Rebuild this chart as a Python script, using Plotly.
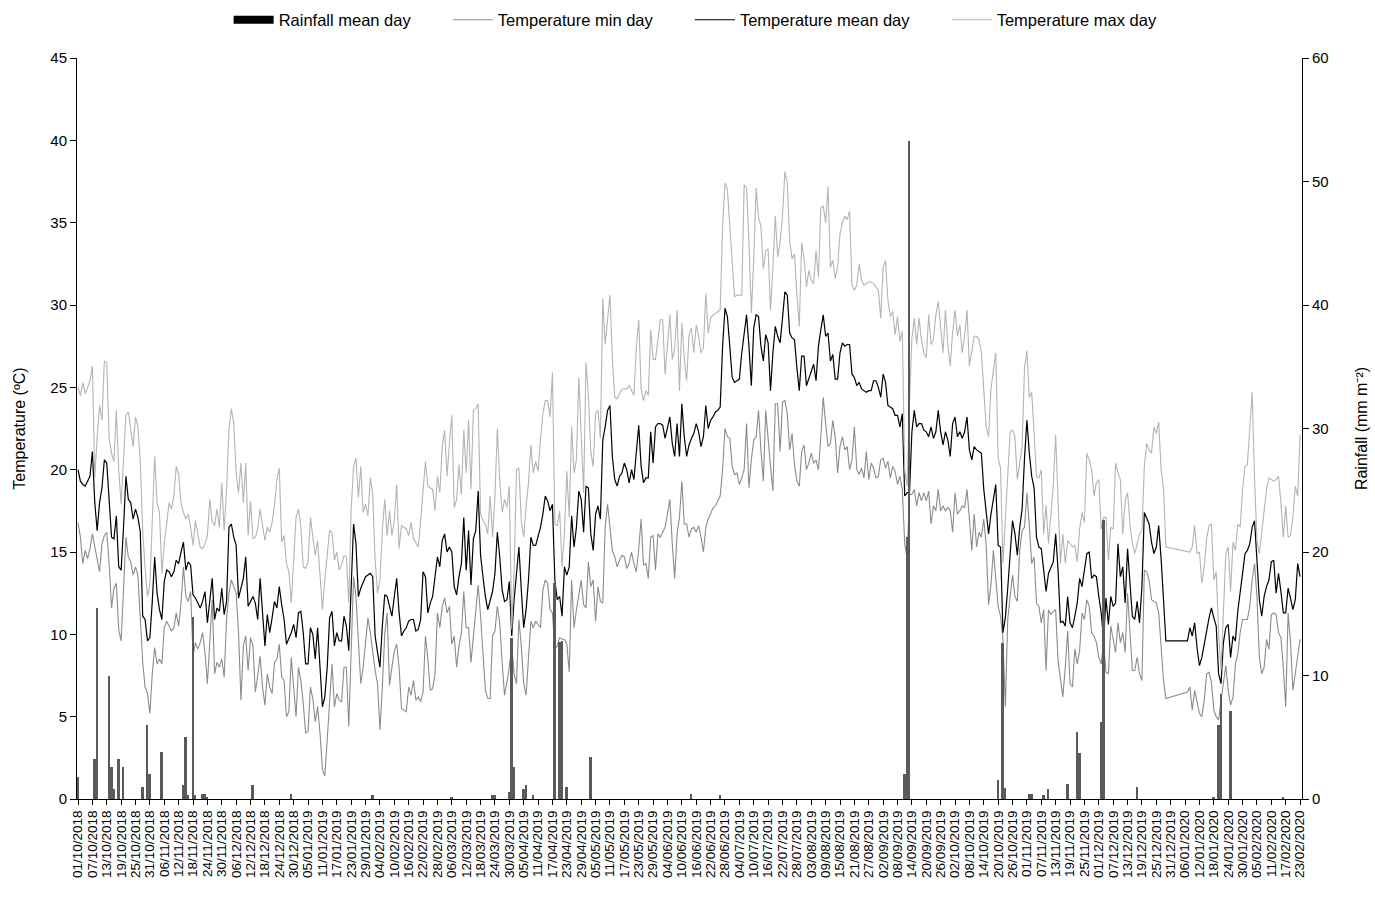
import pandas as pd
import plotly.graph_objects as go

DATES = pd.date_range("2018-10-01", "2020-02-23", freq="D")

T_MEAN = [
    20.0, 19.3, 19.1, 19.0, 19.3, 19.6, 21.1, 18.0, 16.3, 18.0,  # 0
    18.9, 20.6, 20.4, 18.0, 15.9, 15.8, 17.2, 14.1, 13.9, 16.5,  # 10
    19.6, 18.2, 18.0, 17.0, 17.6, 17.1, 16.2, 11.1, 10.9, 9.6,  # 20
    9.8, 12.0, 14.7, 12.5, 11.5, 10.9, 13.2, 13.9, 13.8, 13.5,  # 30
    13.8, 14.5, 14.3, 15.0, 15.6, 13.9, 14.4, 14.2, 12.4, 12.2,  # 40
    11.9, 11.6, 12.0, 12.6, 10.7, 12.1, 13.4, 10.9, 11.6, 11.4,  # 50
    12.8, 11.2, 12.0, 16.5, 16.7, 15.9, 15.4, 12.2, 12.9, 13.4,  # 60
    14.7, 11.7, 12.0, 12.3, 11.9, 10.9, 13.4, 11.2, 9.3, 11.2,  # 70
    10.1, 11.0, 12.0, 11.6, 12.9, 11.8, 10.9, 9.4, 9.7, 10.1,  # 80
    10.6, 9.8, 11.3, 11.4, 10.1, 8.2, 8.2, 10.4, 10.0, 8.5,  # 90
    10.4, 8.1, 5.6, 6.2, 8.0, 11.0, 11.4, 9.3, 10.1, 9.6,  # 100
    9.6, 11.1, 10.5, 9.0, 13.3, 16.7, 15.5, 12.3, 12.8, 13.1,  # 110
    13.5, 13.6, 13.7, 13.5, 9.9, 8.9, 8.0, 10.5, 12.4, 12.3,  # 120
    11.7, 11.1, 12.3, 13.4, 11.3, 9.9, 10.2, 10.4, 10.8, 10.9,  # 130
    10.9, 10.2, 10.3, 10.9, 13.8, 13.5, 11.3, 11.9, 12.3, 13.6,  # 140
    14.7, 14.1, 15.7, 16.1, 15.0, 15.3, 15.0, 12.9, 12.4, 13.5,  # 150
    14.3, 17.1, 13.9, 16.3, 13.0, 15.8, 16.3, 18.7, 14.8, 13.5,  # 160
    12.3, 11.5, 12.1, 12.6, 13.7, 16.2, 14.7, 12.7, 12.0, 12.1,  # 170
    13.2, 9.9, 12.1, 13.7, 15.3, 12.7, 10.4, 11.5, 13.3, 15.9,  # 180
    15.4, 15.4, 15.9, 16.5, 17.3, 18.4, 18.1, 17.5, 17.9, 13.3,  # 190
    12.1, 12.3, 11.1, 14.1, 13.6, 14.1, 17.2, 15.3, 16.5, 18.7,  # 200
    18.2, 16.2, 19.0, 18.9, 16.1, 15.1, 17.3, 17.8, 17.0, 21.8,  # 210
    22.6, 23.6, 23.9, 20.8, 19.4, 19.0, 19.6, 19.8, 20.4, 20.0,  # 220
    19.2, 20.0, 19.4, 21.1, 22.7, 20.2, 19.2, 19.5, 19.5, 22.3,  # 230
    20.4, 22.6, 22.8, 22.8, 22.7, 21.9, 22.5, 23.2, 21.6, 20.8,  # 240
    22.8, 20.8, 24.0, 22.0, 20.8, 21.5, 21.9, 22.2, 22.8, 22.3,  # 250
    21.4, 22.0, 23.9, 22.5, 23.0, 23.2, 23.5, 23.6, 23.8, 27.5,  # 260
    29.8, 29.3, 27.5, 25.6, 25.3, 25.4, 25.5, 27.1, 28.2, 29.4,  # 270
    27.5, 25.1, 28.6, 29.4, 29.3, 27.5, 26.6, 28.2, 27.7, 24.8,  # 280
    27.1, 28.7, 28.1, 27.7, 29.2, 30.8, 30.6, 28.3, 28.0, 27.9,  # 290
    26.2, 24.8, 26.9, 26.9, 25.1, 25.5, 26.0, 26.4, 25.4, 27.5,  # 300
    28.5, 29.4, 28.1, 28.3, 26.6, 27.0, 25.5, 25.5, 27.1, 27.7,  # 310
    27.5, 27.6, 27.6, 25.8, 25.6, 25.1, 25.3, 24.9, 24.8, 24.7,  # 320
    24.8, 24.8, 25.4, 25.4, 25.0, 24.4, 25.8, 25.3, 23.9, 23.8,  # 330
    23.7, 23.3, 23.3, 22.6, 23.4, 18.4, 18.6, 18.6, 22.3, 23.6,  # 340
    22.6, 22.8, 22.8, 22.4, 22.3, 22.0, 22.6, 21.9, 22.3, 23.6,  # 350
    22.3, 21.5, 22.3, 21.8, 20.8, 22.8, 23.2, 22.0, 22.3, 21.9,  # 360
    22.3, 23.2, 21.2, 20.6, 21.4, 21.2, 21.1, 21.0, 18.8, 17.5,  # 370
    16.1, 17.3, 18.3, 19.1, 15.4, 15.3, 10.1, 11.0, 12.8, 15.1,  # 380
    16.9, 16.1, 14.8, 16.5, 17.6, 20.7, 23.0, 21.0, 19.6, 18.9,  # 390
    15.9, 15.3, 15.2, 13.9, 12.6, 13.7, 14.0, 14.4, 16.1, 13.9,  # 400
    10.7, 10.8, 10.5, 12.3, 10.7, 10.4, 11.1, 11.9, 13.4, 12.9,  # 410
    13.9, 14.9, 15.0, 13.4, 13.6, 13.5, 12.3, 11.3, 9.7, 12.2,  # 420
    10.6, 12.3, 11.7, 11.9, 15.5, 13.5, 14.1, 11.9, 15.2, 13.2,  # 430
    11.1, 10.9, 12.0, 10.7, 12.9, 17.4, 17.1, 16.7, 15.6, 14.9,  # 440
    15.3, 16.6, 14.6, 12.3, 9.6, None, None, None, None, None,  # 450
    None, None, None, 9.6, 10.4, 9.9, 10.7, 9.2, 8.1, 8.6,  # 460
    9.3, 10.2, 11.0, 11.6, 11.0, 10.5, 7.6, 7.0, 9.5, 10.4,  # 470
    10.6, 8.6, 9.9, 9.6, 11.4, 12.4, 13.7, 14.9, 15.1, 15.5,  # 480
    16.5, 16.9, 14.1, 12.1, 11.1, 12.3, 12.9, 13.3, 14.4, 14.5,  # 490
    12.5, 13.7, 12.6, 11.3, 11.3, 12.8, 12.2, 11.5, 12.1, 14.3,  # 500
    13.5,  # 510
]

T_MAX = [
    25.0, 24.5, 25.3, 24.6, 25.0, 25.4, 26.3, 19.5, 22.0, 23.9,  # 0
    23.0, 26.6, 26.5, 21.9, 21.0, 20.5, 23.6, 20.0, 17.9, 20.5,  # 10
    23.3, 23.5, 22.5, 21.4, 23.2, 22.6, 20.5, 16.3, 14.0, 12.3,  # 20
    13.0, 16.7, 20.8, 18.0, 17.4, 13.7, 15.5, 16.7, 18.0, 17.6,  # 30
    18.4, 20.2, 19.7, 18.0, 17.4, 17.0, 17.3, 16.5, 15.4, 16.9,  # 40
    16.1, 15.3, 15.2, 15.5, 16.0, 18.2, 16.9, 16.6, 17.6, 16.5,  # 50
    19.2, 16.3, 18.8, 22.4, 23.7, 22.8, 19.8, 18.6, 20.4, 18.0,  # 60
    20.4, 16.0, 18.1, 15.8, 15.9, 16.4, 17.6, 16.5, 15.7, 16.5,  # 70
    16.2, 16.8, 17.8, 19.4, 20.1, 15.6, 16.0, 14.3, 13.8, 11.9,  # 80
    14.7, 17.1, 17.6, 16.5, 14.1, 14.0, 14.4, 17.1, 15.9, 14.8,  # 90
    15.7, 13.7, 11.5, 13.3, 14.8, 16.3, 16.2, 14.5, 15.0, 13.9,  # 100
    14.2, 14.8, 14.7, 11.9, 17.6, 20.2, 20.7, 18.3, 20.2, 17.4,  # 110
    17.9, 17.2, 19.5, 18.5, 14.5, 12.5, 13.3, 16.3, 18.2, 16.0,  # 120
    17.5, 16.0, 16.9, 19.1, 15.2, 16.6, 16.5, 16.4, 16.0, 16.8,  # 130
    15.8, 15.5, 15.3, 16.9, 18.5, 20.5, 19.0, 18.9, 18.8, 17.5,  # 140
    19.6, 18.6, 21.4, 22.4, 19.6, 21.6, 23.3, 17.7, 18.2, 20.3,  # 150
    18.5, 22.4, 19.8, 23.0, 18.8, 23.6, 23.7, 24.0, 17.3, 16.9,  # 160
    16.7, 16.1, 18.4, 15.9, 18.4, 22.5, 19.4, 17.4, 18.2, 17.7,  # 170
    19.0, 10.3, 13.9, 20.0, 20.1, 16.9, 15.9, 17.8, 19.2, 21.5,  # 180
    19.8, 20.5, 19.9, 21.8, 23.4, 24.2, 24.2, 23.2, 25.9, 16.7,  # 190
    16.6, 17.5, 14.1, 16.2, 19.9, 17.1, 22.6, 19.8, 20.6, 25.6,  # 200
    21.7, 18.6, 26.5, 24.5, 21.1, 20.2, 23.4, 23.6, 21.9, 30.4,  # 210
    27.6, 29.2, 30.6, 26.7, 24.4, 24.3, 24.6, 24.9, 24.9, 24.9,  # 220
    25.1, 24.8, 24.5, 27.4, 29.1, 24.9, 24.2, 24.8, 24.5, 28.5,  # 230
    26.7, 26.7, 28.1, 29.1, 29.1, 25.8, 27.5, 29.4, 26.7, 27.3,  # 240
    29.7, 24.8, 28.9, 26.8, 25.4, 28.2, 28.6, 27.1, 28.8, 28.1,  # 250
    27.1, 27.4, 30.7, 28.3, 29.2, 29.4, 29.5, 29.6, 29.7, 34.8,  # 260
    37.4, 37.0, 34.7, 32.8, 30.5, 30.6, 30.6, 30.6, 37.3, 37.1,  # 270
    33.8, 29.5, 32.8, 37.1, 35.3, 34.8, 32.2, 33.3, 33.4, 29.7,  # 280
    32.3, 35.4, 32.9, 33.8, 35.4, 38.1, 37.4, 33.9, 32.8, 33.1,  # 290
    30.7, 28.7, 33.8, 32.8, 31.1, 32.1, 31.5, 31.3, 33.3, 31.7,  # 300
    35.9, 36.0, 35.0, 37.2, 32.3, 32.7, 31.6, 32.3, 34.3, 35.0,  # 310
    35.4, 35.2, 35.7, 31.2, 30.9, 31.2, 32.5, 31.5, 31.2, 31.3,  # 320
    31.4, 31.4, 31.3, 31.1, 30.9, 29.2, 32.3, 32.7, 30.3, 29.3,  # 330
    29.6, 28.2, 29.3, 27.8, 28.4, 20.0, 19.0, 24.1, 28.0, 29.2,  # 340
    27.6, 29.2, 27.9, 27.1, 26.8, 29.4, 27.6, 27.9, 29.4, 30.2,  # 350
    28.7, 27.1, 29.7, 27.6, 26.3, 28.4, 29.7, 28.1, 28.8, 27.1,  # 360
    28.1, 29.7, 26.3, 27.1, 28.1, 28.1, 27.9, 27.1, 24.9, 22.6,  # 370
    22.0, 24.9, 26.0, 27.1, 20.7, 20.1, 14.3, 17.0, 19.8, 22.3,  # 380
    22.4, 22.0, 19.4, 20.5, 21.4, 26.2, 27.2, 24.4, 24.7, 22.2,  # 390
    19.6, 19.5, 20.0, 16.1, 17.8, 15.5, 17.5, 19.0, 22.1, 18.4,  # 400
    14.3, 16.1, 14.3, 15.7, 15.5, 15.3, 15.4, 14.4, 16.4, 17.4,  # 410
    16.8, 21.0, 20.6, 20.0, 18.4, 19.2, 19.4, 16.4, 17.1, 17.1,  # 420
    14.5, 16.5, 16.4, 20.4, 19.8, 19.4, 16.1, 18.1, 18.6, 16.7,  # 430
    15.5, 14.9, 15.5, 16.1, 16.3, 20.2, 21.6, 21.2, 21.0, 22.6,  # 440
    22.2, 22.9, 20.0, 18.8, 15.3, None, None, None, None, None,  # 450
    None, None, None, 15.0, 15.0, 15.3, 16.6, 14.9, 15.0, 13.1,  # 460
    14.1, 15.8, 16.6, 16.7, 13.3, 13.8, 10.1, 7.8, 11.7, 14.9,  # 470
    15.3, 12.6, 15.6, 15.1, 16.7, 16.5, 18.8, 20.2, 20.3, 22.6,  # 480
    24.7, 19.4, 15.7, 14.9, 16.1, 17.4, 18.8, 19.5, 19.4, 19.3,  # 490
    19.4, 19.6, 18.0, 15.9, 17.8, 15.9, 16.0, 17.1, 19.0, 18.4,  # 500
    22.1,  # 510
]

T_MIN = [
    16.8, 15.9, 14.3, 15.1, 14.6, 15.2, 16.1, 15.3, 14.5, 13.8,  # 0
    15.5, 16.0, 16.2, 14.3, 11.6, 12.8, 13.1, 10.3, 9.6, 13.0,  # 10
    15.9, 14.7, 14.4, 13.6, 14.1, 13.6, 10.5, 8.3, 6.8, 6.4,  # 20
    5.2, 7.6, 9.2, 8.2, 8.5, 8.2, 10.4, 10.8, 10.5, 10.2,  # 30
    10.4, 11.3, 10.5, 11.9, 14.1, 12.3, 12.0, 12.6, 8.7, 9.5,  # 40
    9.1, 9.5, 10.1, 8.9, 7.0, 9.5, 12.1, 7.6, 8.3, 8.0,  # 50
    8.5, 7.4, 10.9, 12.5, 13.3, 12.9, 12.5, 10.1, 6.0, 9.3,  # 60
    9.9, 7.8, 9.8, 9.3, 6.5, 7.5, 8.7, 6.8, 5.7, 7.6,  # 70
    6.8, 6.4, 8.3, 8.5, 9.4, 7.4, 7.2, 5.0, 5.3, 8.6,  # 80
    6.8, 5.0, 8.0, 7.2, 5.8, 4.0, 4.1, 6.8, 6.1, 4.7,  # 90
    5.6, 4.0, 1.8, 1.4, 3.6, 6.0, 8.2, 5.6, 6.4, 6.0,  # 100
    5.9, 8.0, 8.0, 4.4, 8.9, 13.5, 12.3, 9.5, 7.0, 8.0,  # 110
    9.7, 11.0, 10.1, 8.9, 7.8, 7.0, 4.2, 6.8, 10.0, 11.3,  # 120
    6.9, 8.0, 9.0, 9.4, 8.0, 5.5, 5.4, 5.3, 6.8, 6.3,  # 130
    7.2, 6.0, 6.2, 5.9, 6.5, 9.9, 8.5, 6.6, 6.7, 7.6,  # 140
    11.3, 10.4, 11.7, 12.2, 11.3, 11.7, 9.4, 9.9, 8.0, 9.3,  # 150
    10.1, 12.6, 10.4, 10.4, 8.3, 9.9, 11.3, 13.0, 11.1, 8.5,  # 160
    6.6, 6.1, 6.1, 9.9, 10.2, 11.7, 10.7, 8.3, 6.3, 7.1,  # 170
    8.0, 9.3, 7.6, 7.0, 10.9, 9.3, 7.0, 6.3, 8.3, 10.8,  # 180
    10.4, 10.8, 10.6, 10.4, 12.7, 13.3, 13.1, 11.5, 11.3, 9.1,  # 190
    9.3, 9.8, 9.7, 9.7, 9.4, 7.7, 13.3, 10.4, 11.5, 12.5,  # 200
    13.3, 11.8, 11.6, 14.4, 12.9, 13.3, 10.8, 12.9, 12.0, 11.9,  # 210
    16.5, 17.9, 16.3, 15.1, 14.7, 14.1, 14.5, 14.8, 14.7, 14.0,  # 220
    14.3, 15.0, 14.3, 13.8, 15.2, 17.0, 14.2, 14.3, 13.4, 15.9,  # 230
    16.0, 13.9, 16.1, 15.9, 16.2, 16.5, 17.3, 18.2, 15.5, 13.4,  # 240
    16.1, 17.1, 19.3, 16.7, 16.7, 15.9, 16.4, 16.5, 16.2, 16.6,  # 250
    15.9, 15.0, 16.5, 17.0, 17.3, 17.7, 17.8, 18.1, 18.4, 20.0,  # 260
    22.5, 22.0, 21.9, 20.2, 19.7, 19.8, 19.1, 19.5, 20.0, 22.8,  # 270
    18.9, 20.6, 21.8, 22.0, 23.6, 21.2, 19.3, 23.6, 21.6, 20.2,  # 280
    18.7, 24.0, 24.0, 21.1, 24.1, 24.2, 23.4, 21.2, 22.2, 20.3,  # 290
    19.3, 19.0, 21.1, 21.5, 20.0, 20.4, 21.0, 20.4, 20.6, 20.0,  # 300
    22.0, 24.4, 22.8, 21.4, 21.6, 23.0, 22.0, 19.8, 21.4, 22.0,  # 310
    21.2, 21.4, 20.0, 20.6, 22.6, 20.0, 19.7, 20.1, 19.5, 21.1,  # 320
    19.4, 20.4, 20.1, 19.5, 19.6, 20.6, 20.7, 20.1, 20.5, 19.5,  # 330
    20.2, 19.9, 19.1, 19.6, 18.8, 15.5, 14.6, 18.5, 18.5, 18.8,  # 340
    17.8, 18.6, 18.1, 18.6, 18.1, 18.7, 16.7, 17.8, 17.5, 18.8,  # 350
    17.5, 17.8, 17.5, 17.7, 17.5, 16.2, 18.6, 17.3, 17.5, 17.8,  # 360
    17.7, 18.8, 17.0, 15.1, 17.3, 15.3, 16.2, 15.9, 17.0, 15.4,  # 370
    11.8, 13.0, 15.1, 13.3, 11.7, 11.1, 9.7, 5.6, 10.9, 12.3,  # 380
    13.6, 12.3, 12.0, 15.1, 16.3, 16.5, 18.6, 16.6, 14.3, 14.7,  # 390
    11.9, 11.7, 10.7, 11.5, 7.8, 11.5, 11.2, 11.4, 11.5, 8.4,  # 400
    7.2, 6.2, 8.0, 10.2, 7.0, 6.8, 9.1, 8.2, 9.0, 11.3,  # 410
    10.9, 12.1, 11.7, 10.1, 9.9, 9.5, 8.6, 8.2, 9.5, 7.7,  # 420
    7.6, 10.5, 9.7, 8.9, 10.7, 9.5, 10.1, 8.9, 12.5, 10.3,  # 430
    7.8, 7.8, 8.6, 7.6, 7.2, 13.9, 13.8, 13.3, 12.1, 12.0,  # 440
    11.9, 11.3, 9.3, 7.2, 6.1, None, None, None, None, None,  # 450
    None, None, None, 6.5, 6.8, 5.4, 6.6, 5.8, 5.2, 5.0,  # 460
    6.0, 7.6, 7.7, 7.1, 5.4, 5.0, 4.8, 6.0, 7.0, 8.1,  # 470
    6.6, 5.7, 6.2, 8.2, 8.8, 10.1, 10.9, 10.9, 10.9, 11.7,  # 480
    13.3, 14.3, 12.3, 8.6, 7.6, 8.0, 9.7, 9.1, 11.2, 11.3,  # 490
    11.2, 10.1, 9.8, 8.0, 5.6, 11.3, 9.5, 6.6, 7.6, 8.6,  # 500
    9.7,  # 510
]

# Rainfall: day index (days after 01/10/2018) and amount (mm m-2)
RAIN_DAY = [0, 7, 8, 13, 14, 15, 17, 19, 27, 29, 30, 35, 44, 45, 46, 48, 49, 52, 53, 54,
            73, 89, 123, 156, 173, 174, 180, 181, 182, 186, 187, 190, 199, 201, 202, 204,
            214, 256, 268, 345, 346, 347, 384, 386, 387, 397, 398, 403, 405, 413, 417,
            418, 427, 428, 442, 474, 476, 477, 481, 503]
RAIN_MM = [1.8, 3.2, 15.5, 10.0, 2.6, 0.8, 3.2, 2.6, 1.0, 6.0, 2.0, 3.8, 1.1, 5.0, 0.3, 14.7, 0.3, 0.4, 0.4, 0.2,
           1.1, 0.4, 0.3, 0.2, 0.3, 0.3, 0.6, 13.0, 2.6, 0.8, 1.1, 0.3, 17.5, 12.7, 12.8, 1.0,
           3.4, 0.4, 0.3, 2.0, 21.2, 53.3, 1.5, 12.6, 0.9, 0.4, 0.4, 0.3, 0.8, 1.2, 5.4,
           3.75, 6.2, 22.6, 1.0, 0.2, 6.0, 8.5, 7.1, 0.2]

for name, s in (("T_MEAN", T_MEAN), ("T_MAX", T_MAX), ("T_MIN", T_MIN)):
    assert len(s) == len(DATES), f"{name}: {len(s)} vs {len(DATES)}"
assert len(RAIN_DAY) == len(RAIN_MM), (len(RAIN_DAY), len(RAIN_MM))

TICK_DATES = list(DATES[::6])
TICK_TEXT = [d.strftime("%d/%m/%Y") for d in TICK_DATES]

FONT = "Arial, Liberation Sans, Helvetica, sans-serif"
NB = "\u00a0"

fig = go.Figure()
# legend-only entry reproducing the thick bar key of the original
fig.add_trace(go.Scatter(x=[None], y=[None], mode="lines", name="Rainfall mean day" + NB * 7,
                         line=dict(color="#000000", width=8), hoverinfo="skip"))
fig.add_trace(go.Bar(
    x=[DATES[i] for i in RAIN_DAY], y=RAIN_MM, name="Rainfall mean day", showlegend=False,
    marker=dict(color="#5a5a5a", line=dict(width=0)),
    width=86400000 * 0.8, yaxis="y2",
))
fig.add_trace(go.Scatter(x=DATES, y=T_MIN, name="Temperature min day" + NB * 7, mode="lines",
                         line=dict(color="#8c8c8c", width=1.1), connectgaps=True))
fig.add_trace(go.Scatter(x=DATES, y=T_MEAN, name="Temperature mean day" + NB * 7, mode="lines",
                         line=dict(color="#000000", width=1.2), connectgaps=True))
fig.add_trace(go.Scatter(x=DATES, y=T_MAX, name="Temperature max day", mode="lines",
                         line=dict(color="#b4b4b4", width=1.1), connectgaps=True))

x0 = DATES[0] - pd.Timedelta(hours=10)
x1 = DATES[0] + pd.Timedelta(days=510.8)

fig.update_layout(
    width=1375, height=897,
    margin=dict(l=77, r=73, t=58, b=98, autoexpand=False),
    plot_bgcolor="white", paper_bgcolor="white",
    font=dict(family=FONT, size=15, color="black"),
    bargap=0,
    legend=dict(orientation="h", x=0.505, xanchor="center", yref="container",
                y=1 - 20 / 897, yanchor="middle",
                font=dict(size=16.5), itemwidth=40, traceorder="normal"),
    xaxis=dict(type="date", range=[x0, x1], tickmode="array", tickvals=TICK_DATES,
               ticktext=TICK_TEXT, tickangle=-90, tickfont=dict(size=13.5),
               showline=True, linecolor="black", linewidth=1, ticks="outside",
               ticklen=5, tickcolor="black", showgrid=False, zeroline=False),
    yaxis=dict(range=[0, 45], dtick=5,
               title=dict(text="Temperature (ºC)", font=dict(size=16), standoff=20),
               showline=True, linecolor="black", linewidth=1, ticks="outside", ticklen=6,
               tickcolor="black", showgrid=False, zeroline=False, tickfont=dict(size=15)),
    yaxis2=dict(range=[0, 60], dtick=10, overlaying="y", side="right",
                title=dict(text="Rainfall (mm m⁻²)", font=dict(size=16), standoff=28),
                showline=True, linecolor="black", linewidth=1, ticks="outside", ticklen=6,
                tickcolor="black", showgrid=False, zeroline=False, tickfont=dict(size=15)),
)

fig.write_html("out.html")
